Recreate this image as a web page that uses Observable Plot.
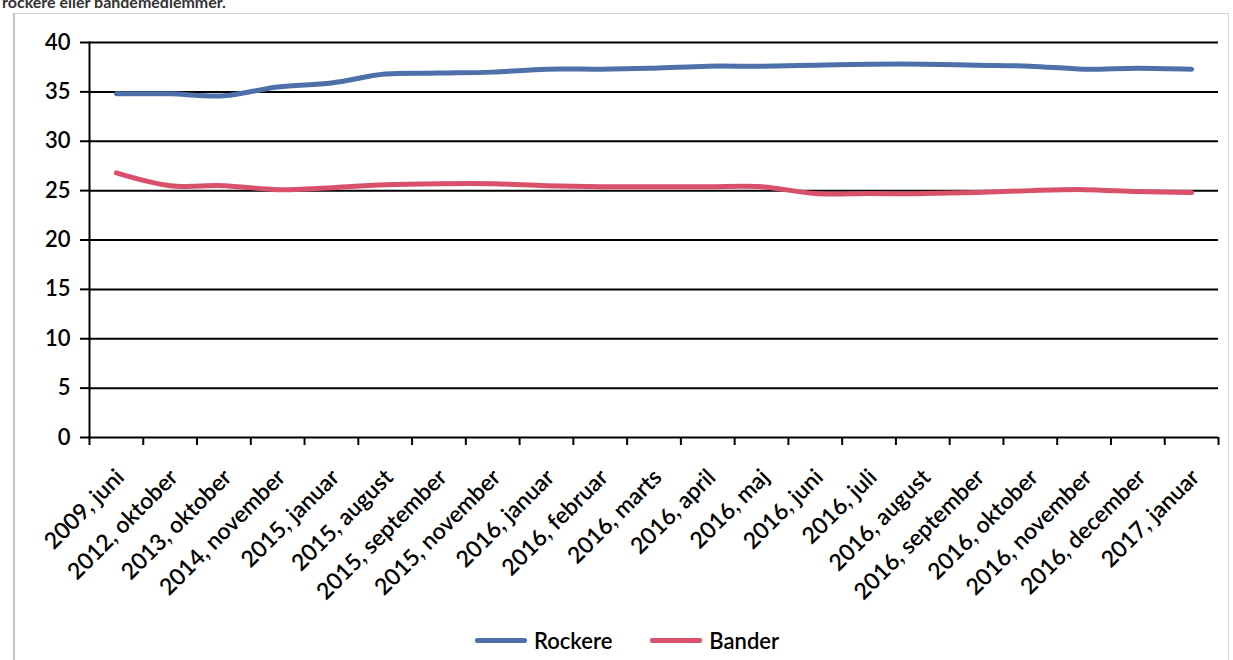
<!DOCTYPE html>
<html>
<head>
<meta charset="utf-8">
<script src="https://cdn.jsdelivr.net/npm/d3@7"></script>
<script src="https://cdn.jsdelivr.net/npm/@observablehq/plot@0.6"></script>
<style>
  html, body { margin: 0; padding: 0; background: #fff; }
  #wrap { position: relative; width: 1233px; height: 660px; overflow: hidden; font-family: Lato, "Open Sans", sans-serif; }
  #title { position: absolute; left: 2px; top: -8px; font-size: 16px; font-weight: 700; color: #333; white-space: nowrap; }
  #frame { position: absolute; left: 13px; top: 13px; width: 1216px; height: 660px; border-left: 2px solid #c4c4c4; border-top: 1px solid #d0d0d0; border-right: 1px solid #d8d8d8; box-sizing: border-box; }
  #chart { position: absolute; left: 0; top: 0; }
  #legend { position: absolute; top: 627px; left: 475px; display: flex; align-items: center; font-size: 22px; font-weight: 600; color: #000; }
  #legend .item { display: flex; align-items: center; margin-right: 38px; }
  #legend .sw { width: 52px; height: 5px; border-radius: 2px; margin-right: 7px; }
</style>
</head>
<body>
<div id="wrap">
  <div id="title">rockere eller bandemedlemmer.</div>
  <div id="frame"></div>
  <div id="chart"></div>
  <div id="legend"></div>
</div>
<script>
const categories = [
  "2009, juni", "2012, oktober", "2013, oktober", "2014, november", "2015, januar",
  "2015, august", "2015, september", "2015, november", "2016, januar", "2016, februar",
  "2016, marts", "2016, april", "2016, maj", "2016, juni", "2016, juli",
  "2016, august", "2016, september", "2016, oktober", "2016, november", "2016, december",
  "2017, januar"
];
const rockere = [34.8, 34.8, 34.6, 35.5, 35.9, 36.8, 36.9, 37.0, 37.3, 37.3, 37.4, 37.6, 37.6, 37.7, 37.8, 37.8, 37.7, 37.6, 37.3, 37.4, 37.3];
const bander  = [26.8, 25.5, 25.5, 25.1, 25.3, 25.6, 25.7, 25.7, 25.5, 25.4, 25.4, 25.4, 25.4, 24.7, 24.7, 24.7, 24.8, 25.0, 25.1, 24.9, 24.8];
const seriesNames = ["Rockere", "Bander"];
const seriesColors = ["#4d70aa", "#d9506b"];
const yTicks = [0, 5, 10, 15, 20, 25, 30, 35, 40];

const rows = [];
categories.forEach((c, i) => {
  rows.push({i, series: "Rockere", value: rockere[i]});
  rows.push({i, series: "Bander", value: bander[i]});
});
const centers = d3.range(categories.length);
const bounds = d3.range(categories.length + 1).map(i => i - 0.5);

const chart = Plot.plot({
  width: 1233,
  height: 620,
  marginLeft: 89,
  marginRight: 15,
  marginTop: 42,
  marginBottom: 183,
  style: {fontFamily: "Lato, 'Open Sans', sans-serif", color: "#000", background: "transparent"},
  x: {type: "linear", domain: [-0.5, categories.length - 0.5], axis: null, label: null},
  y: {domain: [0, 40], axis: null, label: null},
  color: {domain: seriesNames, range: seriesColors},
  marks: [
    Plot.ruleY(yTicks, {stroke: "#000", strokeWidth: 2}),
    Plot.frame({anchor: "left", stroke: "#000", strokeWidth: 2}),
    Plot.axisY(yTicks, {tickSize: 9, tickPadding: 10, stroke: "#000", strokeWidth: 2, fontSize: 22, fontWeight: 600, label: null}),
    Plot.axisX(bounds, {tickSize: 8, tickFormat: () => "", stroke: "#000", strokeWidth: 2, label: null}),
    Plot.axisX(centers, {tickSize: 0, tickPadding: 36, dx: 4, tickRotate: -45, tickFormat: i => categories[i], fontSize: 23, fontWeight: 600, label: null}),
    Plot.line(rows, {x: "i", y: "value", stroke: "series", curve: "catmull-rom", strokeWidth: 5})
  ]
});
document.getElementById("chart").appendChild(chart);

const legend = document.getElementById("legend");
seriesNames.forEach((name, k) => {
  const item = document.createElement("div");
  item.className = "item";
  const sw = document.createElement("div");
  sw.className = "sw";
  sw.style.background = seriesColors[k];
  const label = document.createElement("span");
  label.textContent = name;
  item.appendChild(sw);
  item.appendChild(label);
  legend.appendChild(item);
});
</script>
</body>
</html>
